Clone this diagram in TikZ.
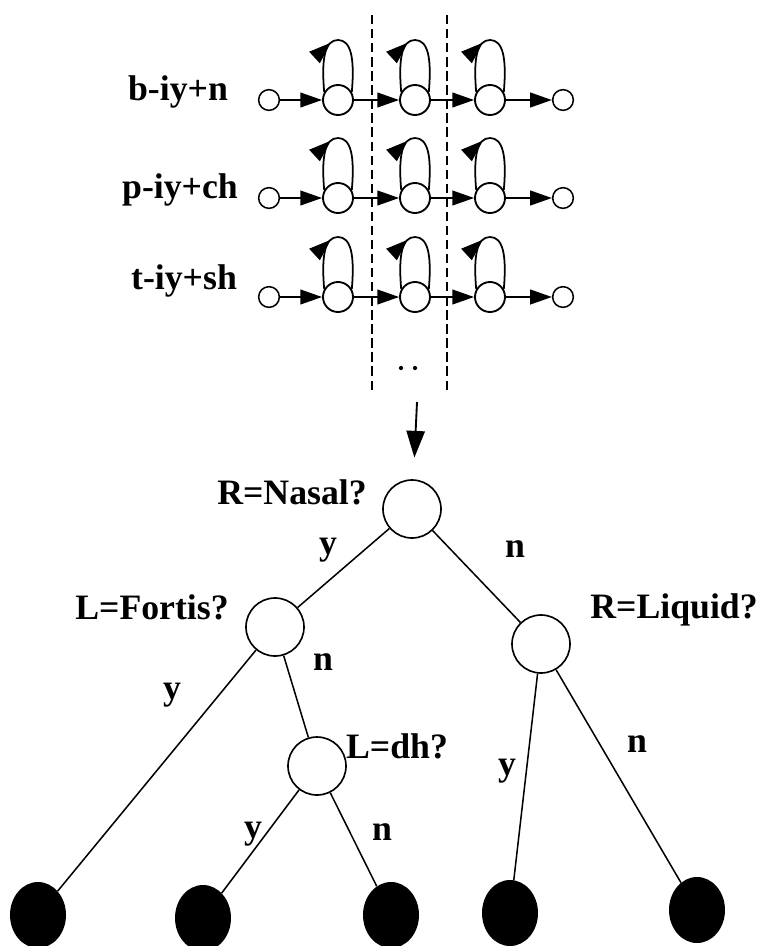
\documentclass[tikz,border=0pt]{standalone}
\usepackage{fontspec}
\setmainfont{Liberation Serif}
\usetikzlibrary{arrows.meta}
\usetikzlibrary{decorations.markings, math}
\usetikzlibrary{shapes.geometric}

\tikzset{
  txt/.style={font=\fontsize{30.5}{36}\selectfont\bfseries, inner sep=0pt},
  state/.style={circle, draw, line width=1.6pt, minimum size=0.9cm, inner sep=0pt},
  endstate/.style={circle, draw, line width=1.3pt, minimum size=0.62cm, inner sep=0pt},
  trans/.style={line width=1.6pt, -{Triangle[length=6.5mm,width=4.4mm]}},
  selfloop/.style={line width=1.5pt, postaction={decorate},
    decoration={markings, mark=at position 0.43 with {\arrow{Triangle[length=6.5mm,width=4.6mm]}}}},
  qnode/.style={circle, draw, line width=1.4pt, minimum size=1.74cm, inner sep=0pt},
  leaf/.style={ellipse, fill=black, minimum width=1.68cm, minimum height=1.98cm, inner sep=0pt},
  branch/.style={line width=1.3pt},
}

\begin{document}
\begin{tikzpicture}[x=0.03cm, y=-0.03cm]
\useasboundingbox (0,0) rectangle (763,946);

% three word models
\foreach \row/\lab/\yy/\lx/\ly in {1/b-iy+n/100/178/92, 2/p-iy+ch/198/180/190, 3/t-iy+sh/297/184/281}{
  \node[txt] (w\row) at (\lx,\ly) {\lab};
  \node[endstate] (in\row) at (269,\yy) {};
  \node[state] (s\row a) at (338,\yy) {};
  \node[state] (s\row b) at (415,\yy) {};
  \node[state] (s\row c) at (490,\yy) {};
  \node[endstate] (out\row) at (563,\yy) {};
  \draw[trans] (in\row) -- (s\row a);
  \draw[trans] (s\row a) -- (s\row b);
  \draw[trans] (s\row b) -- (s\row c);
  \draw[trans] (s\row c) -- (out\row);
  \foreach \k/\x in {a/338, b/415, c/490}{
    \coordinate (t\row\k) at (\x,{\yy-60});
    \draw[selfloop] (s\row\k.150) .. controls +(-3,-34) and +(-13,0) .. (t\row\k)
      .. controls +(13,0) and +(3,-34) .. (s\row\k.30);
  }
}

% tied middle states
\coordinate (d1top) at (372,15);
\coordinate (d1bot) at (372,392);
\coordinate (d2top) at (447,15);
\coordinate (d2bot) at (447,392);
\draw[line width=1.6pt, dash pattern=on 8pt off 4pt] (d1top) -- (d1bot);
\draw[line width=1.6pt, dash pattern=on 8pt off 4pt] (d2top) -- (d2bot);
\fill (401,368) circle (1.8pt);
\fill (415,368) circle (1.8pt);

%%%%%%%%%% decision tree
\node[qnode] (nasal) at (412,509) {};
\node[qnode] (fortis) at (275,627) {};
\node[qnode] (dh) at (317,766) {};
\node[qnode] (liquid) at (541,644) {};

\node[leaf] (l1) at (38,915) {};
\node[leaf] (l2) at (203,918) {};
\node[leaf] (l3) at (391,915) {};
\node[leaf] (l4) at (510,913) {};
\node[leaf] (l5) at (697,910) {};

\coordinate (split) at (417,402);
\draw[line width=1.6pt, -{Triangle[length=8mm,width=5.5mm]}, shorten >=0.65cm] (split) -- (nasal);

\node[txt] (qnasal) at (292,492) {R=Nasal?};
\node[txt] (qfortis) at (152,607) {L=Fortis?};
\node[txt] (qdh) at (397,746) {L=dh?};
\node[txt] (qliquid) at (674,610) {R=Liquid?};

\draw[branch] (nasal) -- (fortis);
\draw[branch] (nasal) -- (liquid);
\draw[branch] (fortis) -- (l1);
\draw[branch] (fortis) -- (dh);
\draw[branch] (dh) -- (l2);
\draw[branch] (dh) -- (l3);
\draw[branch] (liquid) -- (l4);
\draw[branch] (liquid) -- (l5);

\node[txt] (y1) at (328,550) {y};
\node[txt] (n1) at (515,549) {n};
\node[txt] (y2) at (172,695) {y};
\node[txt] (n2) at (323,662) {n};
\node[txt] (y3) at (253,834) {y};
\node[txt] (n3) at (382,832) {n};
\node[txt] (y4) at (507,771) {y};
\node[txt] (n4) at (637,744) {n};
\end{tikzpicture}
\end{document}
